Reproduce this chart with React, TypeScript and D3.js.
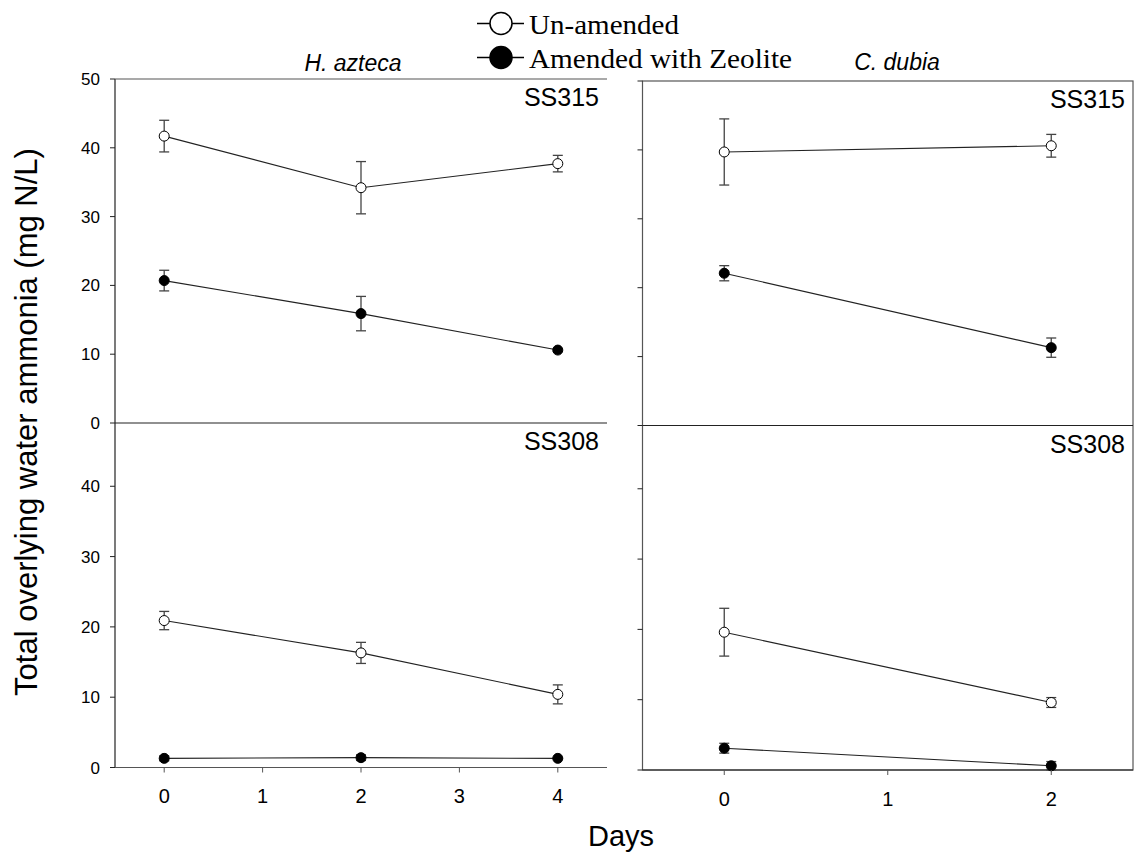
import React from "react";
import * as d3 from "d3";

// days sampled for each species
const aztecaDays = [0, 2, 4];
const dubiaDays = [0, 2];

// H. azteca, SS315
const azteca315Un = [41.7, 34.2, 37.7];
const azteca315UnErr = [2.3, 3.8, 1.2];
const azteca315Zeo = [20.7, 15.9, 10.6];
const azteca315ZeoErr = [1.5, 2.5, 0.2];

// H. azteca, SS308
const azteca308Un = [20.9, 16.3, 10.4];
const azteca308UnErr = [1.3, 1.5, 1.35];
const azteca308Zeo = [1.3, 1.4, 1.3];
const azteca308ZeoErr = [0.35, 0.4, 0.1];

// C. dubia, SS315
const dubia315Un = [39.7, 40.6];
const dubia315UnErr = [4.8, 1.65];
const dubia315Zeo = [22.1, 11.3];
const dubia315ZeoErr = [1.1, 1.4];

// C. dubia, SS308
const dubia308Un = [19.6, 9.6];
const dubia308UnErr = [3.4, 0.7];
const dubia308Zeo = [3.1, 0.6];
const dubia308ZeoErr = [0.7, 0.6];

const yTicksTop = [0, 10, 20, 30, 40, 50];
const yTicksBottom = [0, 10, 20, 30, 40];
const aztecaXTicks = [0, 1, 2, 3, 4];
const dubiaXTicks = [0, 1, 2];

const seriesNames = ["Un-amended", "Amended with Zeolite"];

const AX = "#222";
const FRAME = "#555";

const Series = ({ days, vals, errs, x, y, filled }) => {
  const line = d3
    .line()
    .x((d) => x(d[0]))
    .y((d) => y(d[1]));
  const pts = days.map((d, i) => [d, vals[i]]);
  return (
    <g>
      <path d={line(pts)} fill="none" stroke="#222" strokeWidth={1.1} />
      {days.map((d, i) => {
        const cx = x(d);
        const top = y(vals[i] + errs[i]);
        const bot = y(Math.max(0, vals[i] - errs[i]));
        return (
          <g key={i} stroke="#444" strokeWidth={1.3}>
            <line x1={cx} x2={cx} y1={top} y2={bot} />
            <line x1={cx - 5} x2={cx + 5} y1={top} y2={top} />
            <line x1={cx - 5} x2={cx + 5} y1={bot} y2={bot} />
          </g>
        );
      })}
      {days.map((d, i) => (
        <circle
          key={"c" + i}
          cx={x(d)}
          cy={y(vals[i])}
          r={5}
          fill={filled ? "#000" : "#fff"}
          stroke="#000"
          strokeWidth={1}
        />
      ))}
    </g>
  );
};

const Panel = ({ p }) => {
  const x = d3.scaleLinear().domain(p.xDomain).range([p.x0, p.x1]);
  const y = d3.scaleLinear().domain([0, p.yMax]).range([p.yBot, p.yTop]);
  return (
    <g>
      <Series days={p.days} vals={p.un} errs={p.unErr} x={x} y={y} filled={false} />
      <Series days={p.days} vals={p.zeo} errs={p.zeoErr} x={x} y={y} filled={true} />
      <text
        x={p.x1 - 8}
        y={p.yTop + 27}
        textAnchor="end"
        fontFamily="Arial, 'Liberation Sans', sans-serif"
        fontSize={25}
      >
        {p.label}
      </text>
      {p.ticks.map((t) => (
        <g key={t}>
          <line x1={p.x0 - 5} x2={p.x0} y1={y(t)} y2={y(t)} stroke={AX} strokeWidth={1} />
          {p.showYLabels && (
            <text
              x={p.x0 - 15}
              y={y(t) + 6}
              textAnchor="end"
              fontFamily="Arial, 'Liberation Sans', sans-serif"
              fontSize={17}
            >
              {t}
            </text>
          )}
        </g>
      ))}
    </g>
  );
};

export default function App() {
  const W = 1136;
  const H = 854;
  const L = { x0: 115, x1: 607, top: 79, mid: 423, bot: 767.5 };
  const R = { x0: 642.5, x1: 1133, top: 81, mid: 425.5, bot: 770 };

  const panels = [
    { key: "a315", x0: L.x0, x1: L.x1, yTop: L.top, yBot: L.mid, yMax: 50, xDomain: [-0.5, 4.5], days: aztecaDays, un: azteca315Un, unErr: azteca315UnErr, zeo: azteca315Zeo, zeoErr: azteca315ZeoErr, label: "SS315", ticks: yTicksTop, showYLabels: true },
    { key: "a308", x0: L.x0, x1: L.x1, yTop: L.mid, yBot: L.bot, yMax: 49, xDomain: [-0.5, 4.5], days: aztecaDays, un: azteca308Un, unErr: azteca308UnErr, zeo: azteca308Zeo, zeoErr: azteca308ZeoErr, label: "SS308", ticks: yTicksBottom, showYLabels: true },
    { key: "d315", x0: R.x0, x1: R.x1, yTop: R.top, yBot: R.mid, yMax: 50, xDomain: [-0.5, 2.5], days: dubiaDays, un: dubia315Un, unErr: dubia315UnErr, zeo: dubia315Zeo, zeoErr: dubia315ZeoErr, label: "SS315", ticks: yTicksTop, showYLabels: false },
    { key: "d308", x0: R.x0, x1: R.x1, yTop: R.mid, yBot: R.bot, yMax: 49, xDomain: [-0.5, 2.5], days: dubiaDays, un: dubia308Un, unErr: dubia308UnErr, zeo: dubia308Zeo, zeoErr: dubia308ZeoErr, label: "SS308", ticks: yTicksBottom, showYLabels: false },
  ];

  const xl = d3.scaleLinear().domain([-0.5, 4.5]).range([L.x0, L.x1]);
  const xr = d3.scaleLinear().domain([-0.5, 2.5]).range([R.x0, R.x1]);
  const arial = "Arial, 'Liberation Sans', sans-serif";
  const serif = "'Times New Roman', 'Liberation Serif', serif";

  return (
    <svg
      width={W}
      height={H}
      style={{ position: "absolute", left: 0, top: 0, background: "#fff" }}
    >
      <rect width={W} height={H} fill="#fff" />

      {/* left panel frame: left axis, top, middle and bottom lines */}
      <line x1={L.x0} x2={L.x0} y1={L.top} y2={L.bot} stroke={AX} strokeWidth={1.2} />
      <line x1={L.x0} x2={L.x1} y1={L.top} y2={L.top} stroke={FRAME} strokeWidth={1.2} />
      <line x1={L.x0} x2={L.x1} y1={L.mid} y2={L.mid} stroke={AX} strokeWidth={1.2} />
      <line x1={L.x0} x2={L.x1} y1={L.bot} y2={L.bot} stroke={FRAME} strokeWidth={1.2} />

      {/* right panel full box */}
      <rect x={R.x0} y={R.top} width={R.x1 - R.x0} height={R.bot - R.top} fill="none" stroke={FRAME} strokeWidth={1.2} />
      <line x1={R.x0} x2={R.x1} y1={R.mid} y2={R.mid} stroke={AX} strokeWidth={1.2} />
      <line x1={R.x0} x2={R.x1} y1={R.bot} y2={R.bot} stroke={AX} strokeWidth={1.2} />

      {panels.map((p) => (
        <Panel key={p.key} p={p} />
      ))}

      {/* x axes */}
      {aztecaXTicks.map((t) => (
        <g key={"xl" + t}>
          <line x1={xl(t)} x2={xl(t)} y1={L.bot} y2={L.bot + 5} stroke={FRAME} />
          <text x={xl(t)} y={803} textAnchor="middle" fontFamily={arial} fontSize={20}>
            {t}
          </text>
        </g>
      ))}
      {dubiaXTicks.map((t) => (
        <g key={"xr" + t}>
          <line x1={xr(t)} x2={xr(t)} y1={R.bot} y2={R.bot + 5} stroke={FRAME} />
          <text x={xr(t)} y={806} textAnchor="middle" fontFamily={arial} fontSize={20}>
            {t}
          </text>
        </g>
      ))}

      {/* titles */}
      <text x={353} y={71} textAnchor="middle" fontFamily={arial} fontStyle="italic" fontSize={23}>
        H. azteca
      </text>
      <text x={897} y={70} textAnchor="middle" fontFamily={arial} fontStyle="italic" fontSize={23}>
        C. dubia
      </text>

      {/* axis titles */}
      <text x={621} y={846} textAnchor="middle" fontFamily={arial} fontSize={29}>
        Days
      </text>
      <text
        transform="translate(37,422) rotate(-90)"
        textAnchor="middle"
        fontFamily={arial}
        fontSize={31}
      >
        Total overlying water ammonia (mg N/L)
      </text>

      {/* legend */}
      {seriesNames.map((name, i) => {
        const cy = 23.5 + i * 34;
        return (
          <g key={name}>
            <line x1={477} x2={524} y1={cy} y2={cy} stroke="#000" strokeWidth={1.5} />
            <circle cx={501} cy={cy} r={11} fill={i === 0 ? "#fff" : "#000"} stroke="#000" strokeWidth={1.5} />
            <text
              x={529}
              y={cy + 10.5}
              fontFamily={serif}
              fontSize={28}
              textLength={i === 0 ? 150 : 263}
              lengthAdjust="spacingAndGlyphs"
            >
              {name}
            </text>
          </g>
        );
      })}
    </svg>
  );
}
